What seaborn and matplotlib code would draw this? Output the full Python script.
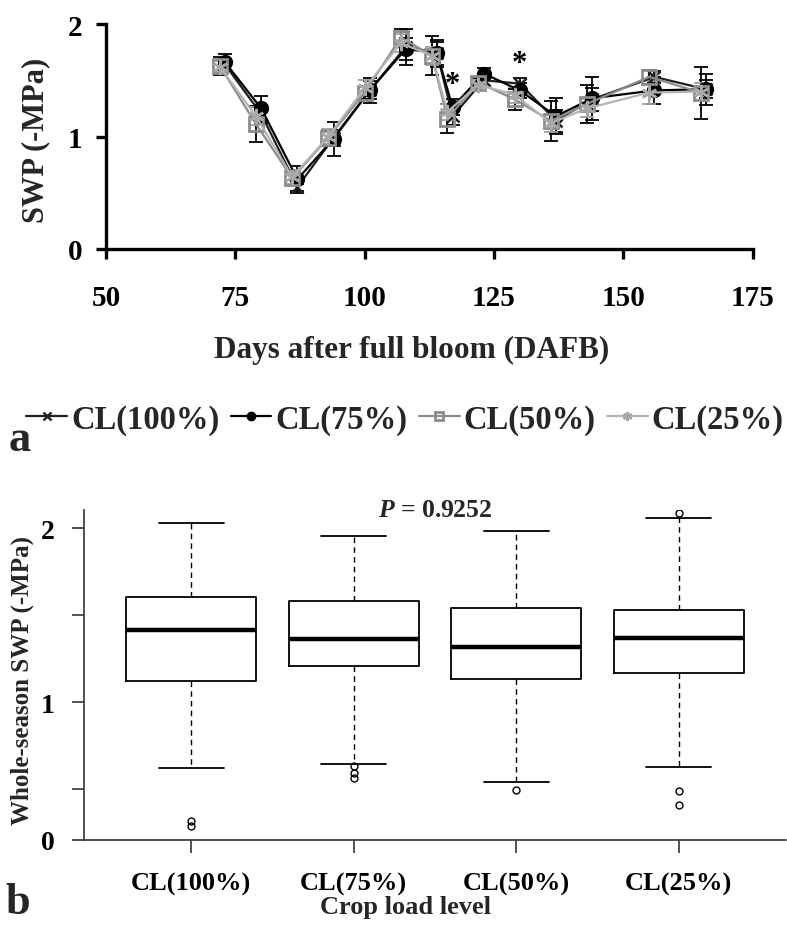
import numpy as np
import pandas as pd
import matplotlib
matplotlib.use("Agg")
import matplotlib.pyplot as plt
import seaborn as sns

# ---------------- data: panel a ----------------
days_a = [72, 79, 86, 93, 100, 107, 113, 116, 122, 129, 136, 143, 155, 165]
days_b = [73, 80, 87, 94, 101, 108, 114, 117, 123, 130, 137, 144, 156, 166]
cl100 = [1.64, 1.20, 0.55, 0.99, 1.41, 1.80, 1.74, 1.18, 1.50, 1.47, 1.14, 1.33, 1.53, 1.42]
err100 = [0.05, 0.08, 0.03, 0.07, 0.08, 0.16, 0.10, 0.08, 0.06, 0.05, 0.10, 0.10, 0.05, 0.08]
cl75 = [1.66, 1.25, 0.62, 0.98, 1.41, 1.78, 1.74, 1.26, 1.56, 1.41, 1.18, 1.34, 1.41, 1.42]
err75 = [0.07, 0.11, 0.12, 0.15, 0.11, 0.10, 0.12, 0.07, 0.05, 0.07, 0.16, 0.19, 0.12, 0.14]
cl50 = [1.63, 1.11, 0.63, 0.99, 1.39, 1.88, 1.72, 1.16, 1.48, 1.33, 1.14, 1.29, 1.53, 1.39]
err50 = [0.08, 0.16, 0.06, 0.07, 0.06, 0.08, 0.17, 0.13, 0.04, 0.09, 0.18, 0.17, 0.06, 0.23]
cl25 = [1.62, 1.18, 0.64, 1.00, 1.43, 1.83, 1.72, 1.22, 1.46, 1.37, 1.12, 1.25, 1.39, 1.40]
err25 = [0.05, 0.08, 0.06, 0.07, 0.07, 0.08, 0.08, 0.07, 0.04, 0.07, 0.08, 0.08, 0.10, 0.08]
signif_days = [116, 129]

# ---------------- data: panel b (box summaries) ----------------
groups = ["CL(100%)", "CL(75%)", "CL(50%)", "CL(25%)"]
q1 = [1.122, 1.207, 1.132, 1.166]
med = [1.415, 1.361, 1.317, 1.367]
q3 = [1.602, 1.583, 1.541, 1.530]
whislo = [0.625, 0.648, 0.541, 0.631]
whishi = [2.027, 1.956, 1.983, 2.055]
fliers = [[0.321, 0.289], [0.636, 0.593, 0.566], [0.497], [2.085, 0.493, 0.411]]
p_value = "0.9252"

# ---------------- style ----------------
sns.set_theme(style="ticks")
plt.rcParams["font.family"] = ["Liberation Serif", "DejaVu Serif"]
plt.rcParams["font.weight"] = "bold"
plt.rcParams["mathtext.fontset"] = "custom"
plt.rcParams["mathtext.it"] = "Liberation Serif:italic:bold"
plt.rcParams["mathtext.rm"] = "Liberation Serif:bold"

W, H = 787, 928
fig = plt.figure(figsize=(W / 100, H / 100), dpi=100)

def fx(px):
    return px / W

def fy(py):
    return 1 - py / H

# ---------------- panel a ----------------
ax1 = fig.add_axes([fx(106), fy(250), fx(752.6) - fx(106), fy(25) - fy(250)])

series = [
    ("CL(100%)", days_b, cl100, err100, dict(color="#202020", marker="x", markersize=9,
                                               markeredgewidth=1.8, markeredgecolor="#202020"), "black"),
    ("CL(75%)", days_b, cl75, err75, dict(color="black", marker="o", markersize=10,
                                            markeredgewidth=1, markeredgecolor="black",
                                            markerfacecolor="black"), "black"),
    ("CL(50%)", days_a, cl50, err50, dict(color="#8c8c8c", marker="s", markersize=10,
                                            markeredgewidth=2, markeredgecolor="#8c8c8c",
                                            markerfacecolor="none"), "black"),
    ("CL(25%)", days_a, cl25, err25, dict(color="#b4b4b4", marker=(6, 2, 0), markersize=11,
                                            markeredgewidth=1.8, markeredgecolor="#a8a8a8"), "#a0a0a0"),
]

for name, dd, vv, ee, kw, ecol in series:
    df = pd.DataFrame({"day": dd, "swp": vv})
    sns.lineplot(data=df, x="day", y="swp", ax=ax1, label=name, linewidth=1.6,
                 errorbar=None, sort=True, **kw)
    ax1.errorbar(dd, vv, yerr=ee, fmt="none", ecolor=ecol, elinewidth=1.3,
                 capsize=5, capthick=1.3, zorder=1)

allv = np.array([cl100, cl75, cl50, cl25])
alle = np.array([err100, err75, err50, err25])
for sd in signif_days:
    i = days_a.index(sd)
    top = (allv[:, i] + alle[:, i]).max()
    ax1.text(sd + 1, top + 0.13, "*", ha="center", va="center", fontsize=22,
             fontweight="bold", color="black")

ax1.set_xlim(50, 175)
ax1.set_ylim(0, 2)
ax1.set_xticks([50, 75, 100, 125, 150, 175])
ax1.set_yticks([0, 1, 2])
ax1.set_xlabel("")
ax1.set_ylabel("")
for s in ["top", "right"]:
    ax1.spines[s].set_visible(False)
for s in ["left", "bottom"]:
    ax1.spines[s].set_linewidth(2.4)
    ax1.spines[s].set_color("black")
ax1.tick_params(axis="both", direction="out", length=7, width=2.4, colors="black",
                labelsize=21)
ax1.tick_params(axis="x", pad=18)
ax1.tick_params(axis="y", pad=10)
for lab in ax1.get_xticklabels() + ax1.get_yticklabels():
    lab.set_fontweight("bold")

handles, labels = ax1.get_legend_handles_labels()
ax1.get_legend().remove()
fig.legend(handles, labels, loc="center", bbox_to_anchor=(fx(405), fy(420)), ncol=4,
           frameon=False, prop={"size": 23.5, "weight": "bold"}, handlelength=1.25,
           handletextpad=0.12, columnspacing=0.35, markerscale=0.6, borderaxespad=0,
           borderpad=0)

fig.text(fx(36), fy(140), "SWP (-MPa)", rotation=90, ha="center", va="center",
         fontsize=22, fontweight="bold")
fig.text(fx(412), fy(350), "Days after full bloom (DAFB)", ha="center", va="center",
         fontsize=22.5, fontweight="bold")
fig.text(fx(20), fy(440), "a", ha="center", va="center", fontsize=32, fontweight="bold")

# ---------------- panel b ----------------
rows = []
R = 20
for g, a, m, b, lo, hi, fl in zip(groups, q1, med, q3, whislo, whishi, fliers):
    vals = list(fl) + [lo] + [a] * R + [m] * R + [b] * R + [hi]
    rows += [(g, v) for v in vals]
bdf = pd.DataFrame(rows, columns=["group", "swp"])

ax2 = fig.add_axes([fx(84), fy(841), fx(786) - fx(84), fy(510.7) - fy(841)])
sns.boxplot(data=bdf, x="group", y="swp", order=groups, ax=ax2, width=0.8, fill=False,
            color="black", linecolor="black", linewidth=1.3, whis=1.5,
            whiskerprops={"linestyle": (0, (4, 3)), "linewidth": 1.0, "color": "black"},
            capprops={"linewidth": 1.3, "color": "black"},
            boxprops={"color": "black"},
            medianprops={"linewidth": 3.2, "color": "black"},
            flierprops={"marker": "o", "markersize": 5, "markerfacecolor": "none",
                        "markeredgecolor": "black", "markeredgewidth": 1.0})

ax2.set_xlim(-0.66, 3.66)
ax2.set_ylim(0.21, 2.105)
ax2.set_yticks([0.21, 0.5, 1, 1.5, 2])
ax2.set_yticklabels(["0", "", "1", "", "2"])
ax2.set_xlabel("")
ax2.set_ylabel("")
for s in ["top", "right"]:
    ax2.spines[s].set_visible(False)
for s in ["left", "bottom"]:
    ax2.spines[s].set_linewidth(1.2)
    ax2.spines[s].set_color("#333333")
ax2.tick_params(axis="both", direction="out", length=9, width=1.2, colors="#333333",
                labelcolor="black")
ax2.tick_params(axis="y", labelsize=20, pad=12)
ax2.tick_params(axis="x", labelsize=19, pad=14)
for lab in ax2.get_xticklabels() + ax2.get_yticklabels():
    lab.set_fontweight("bold")

ax2.text(0.5, 1.0, r"$\mathit{P}$ = " + p_value, transform=ax2.transAxes, ha="center",
         va="center", fontsize=18.5, fontweight="bold")
fig.text(fx(22), fy(681), "Whole-season SWP (-MPa)", rotation=90, ha="center", va="center",
         fontsize=18, fontweight="bold")
fig.text(fx(405), fy(908), "Crop load level", ha="center", va="center",
         fontsize=19, fontweight="bold")
fig.text(fx(18), fy(903), "b", ha="center", va="center", fontsize=32, fontweight="bold")

fig.savefig("out.png", dpi=100)
